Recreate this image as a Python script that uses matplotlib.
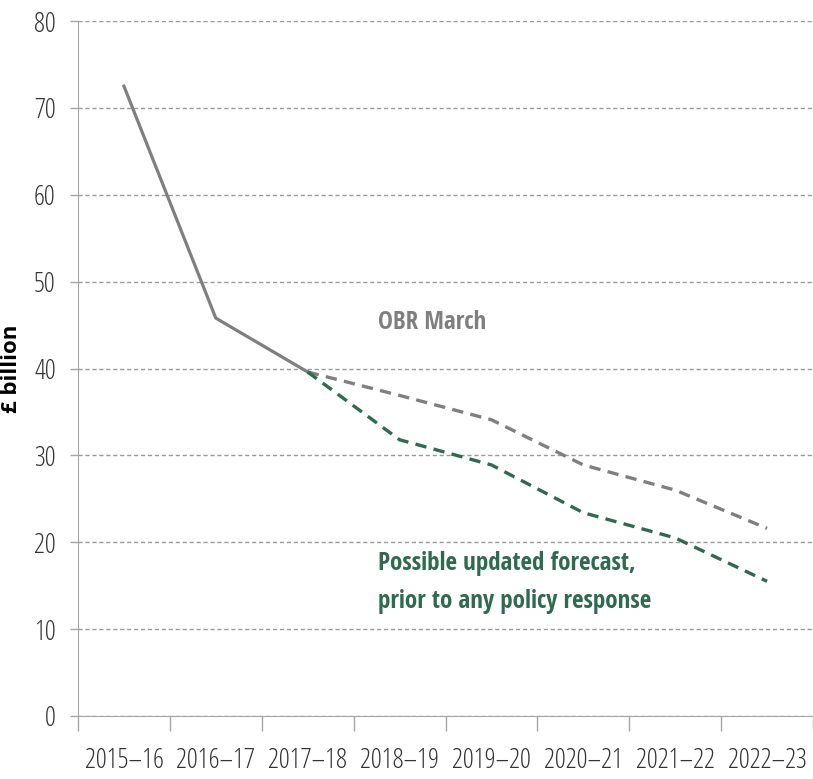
import numpy as np
import matplotlib
matplotlib.use("Agg")
import matplotlib.pyplot as plt
from matplotlib.font_manager import FontProperties

years = ['2015–16', '2016–17', '2017–18', '2018–19', '2019–20',
         '2020–21', '2021–22', '2022–23']
outturn = [72.5, 45.8, 39.6]
obr_march = [39.6, 36.9, 34.1, 28.9, 26.0, 21.6]
updated = [39.6, 31.8, 28.9, 23.4, 20.5, 15.5]

grey = '#7f7f7f'
green = '#2e6b4e'

tick_font = FontProperties(family='Open Sans', stretch='condensed', weight=300, size=19.5)
note_font = FontProperties(family='Open Sans Condensed', stretch='condensed', weight='bold', size=18)
ylab_font = FontProperties(family='Open Sans', weight='bold', size=16)

fig = plt.figure(figsize=(8.13, 7.79), dpi=100)
ax = fig.add_axes([78 / 813, 63 / 779, 1 - 78 / 813, (716 - 21) / 779])

x = np.arange(len(years))
ax.plot(x[:3], outturn, color=grey, lw=2.3)
ax.plot(x[2:], obr_march, color=grey, lw=2.4, dashes=(3.4, 2.2))
ax.plot(x[2:], updated, color=green, lw=2.4, dashes=(3.4, 2.2))

ax.set_xlim(-0.5, 7.5)
ax.set_ylim(0, 80)
ax.set_yticks(range(0, 81, 10))
ax.yaxis.grid(True, color='#999999', ls=(0, (3, 2)), lw=1)
ax.set_axisbelow(True)

ax.set_xticks(np.arange(-0.5, 8, 1))
ax.set_xticklabels([])
ax.set_xticks(x, minor=True)
ax.set_xticklabels(years, minor=True)
ax.tick_params(axis='x', which='major', length=11, color='#a6a6a6', width=1)
ax.tick_params(axis='x', which='minor', length=0, pad=22, labelcolor='#333333')
ax.tick_params(axis='y', length=6, color='#a6a6a6', width=1,
               labelcolor='#333333', pad=10)
for lab in ax.get_xticklabels(minor=True) + ax.get_yticklabels():
    lab.set_fontproperties(tick_font)

for s in ['top', 'right']:
    ax.spines[s].set_visible(False)
for s in ['left', 'bottom']:
    ax.spines[s].set_color('#a6a6a6')

ax.set_ylabel('£ billion', fontproperties=ylab_font, color='black')
ax.yaxis.set_label_coords(-0.076, 0.5)

ax.text(2.77, 45.3, 'OBR March', color=grey, fontproperties=note_font, va='center')
ax.text(2.77, 15.4, 'Possible updated forecast,\nprior to any policy response',
        color=green, fontproperties=note_font, va='center', linespacing=1.7)

fig.savefig('out.png', dpi=100)
